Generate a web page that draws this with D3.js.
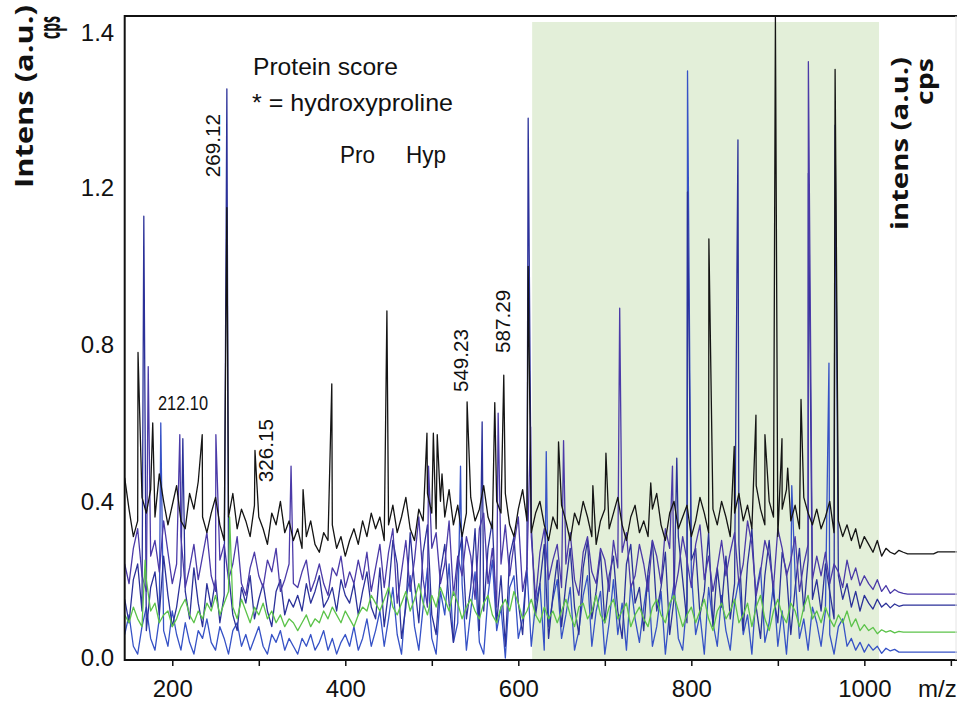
<!DOCTYPE html>
<html>
<head>
<meta charset="utf-8">
<script src="https://cdn.jsdelivr.net/npm/d3@7"></script>
<style>
  html, body { margin: 0; padding: 0; background: #fff; }
  svg { display: block; }
</style>
</head>
<body>
<svg id="chart" width="957" height="705"></svg>
<script>
// ---------------- DATA ----------------
const mzStart = 145, mzStep = 5;   // m/z grid of the sampled traces

const blackVals = [
  0.46,0.38,0.31,0.35,0.41,0.37,0.43,0.36,0.47,0.40,0.34,0.39,0.44,0.35,0.33,0.42,0.38,0.45,0.36,0.32,
  0.37,0.41,0.34,0.30,0.36,0.42,0.33,0.38,0.35,0.31,0.39,0.36,0.33,0.29,0.37,0.34,0.40,0.32,0.35,0.30,
  0.33,0.28,0.31,0.35,0.29,0.27,0.32,0.30,0.34,0.28,0.31,0.26,0.30,0.33,0.29,0.35,0.31,0.37,0.33,0.36,
  0.30,0.34,0.39,0.32,0.36,0.41,0.33,0.30,0.38,0.35,0.42,0.37,0.33,0.40,0.36,0.43,0.34,0.39,0.31,0.37,
  0.41,0.35,0.38,0.44,0.36,0.33,0.40,0.37,0.42,0.34,0.31,0.38,0.43,0.35,0.32,0.37,0.40,0.34,0.30,0.36,
  0.33,0.39,0.35,0.30,0.37,0.34,0.40,0.36,0.31,0.29,0.35,0.38,0.33,0.37,0.41,0.34,0.30,0.36,0.39,0.32,
  0.35,0.31,0.38,0.42,0.34,0.30,0.37,0.40,0.33,0.36,0.39,0.31,0.35,0.41,0.37,0.32,0.38,0.34,0.40,0.36,
  0.31,0.37,0.42,0.35,0.39,0.33,0.44,0.38,0.34,0.40,0.36,0.31,0.38,0.43,0.35,0.39,0.33,0.41,0.37,0.34,
  0.38,0.33,0.36,0.40,0.32,0.35,0.31,0.34,0.30,0.33,0.28,0.31,0.29,0.27,0.30,0.26,0.28,0.27,0.265,0.275,
  0.27,0.266,0.266,0.266,0.266,0.266,0.266,0.266,0.271,0.271,0.271,0.271,0.271,0.271
];
const purpleVals = [
  0.24,0.19,0.28,0.33,0.21,0.17,0.26,0.30,0.22,0.35,0.27,0.19,0.24,0.31,0.18,0.23,0.29,0.20,0.26,0.32,
  0.21,0.17,0.25,0.29,0.20,0.24,0.31,0.19,0.16,0.23,0.27,0.21,0.18,0.25,0.22,0.28,0.17,0.20,0.24,0.19,
  0.18,0.22,0.25,0.17,0.20,0.24,0.19,0.16,0.23,0.21,0.26,0.18,0.22,0.19,0.25,0.20,0.27,0.17,0.23,0.29,
  0.18,0.27,0.33,0.14,0.22,0.30,0.17,0.25,0.36,0.20,0.13,0.28,0.32,0.19,0.24,0.35,0.16,0.26,0.21,0.31,
  0.26,0.15,0.33,0.37,0.19,0.28,0.13,0.24,0.34,0.21,0.29,0.36,0.17,0.23,0.31,0.15,0.27,0.33,0.20,0.25,
  0.29,0.18,0.24,0.32,0.20,0.16,0.27,0.31,0.22,0.19,0.28,0.25,0.17,0.30,0.23,0.27,0.32,0.18,0.21,0.29,
  0.24,0.17,0.30,0.26,0.19,0.33,0.28,0.16,0.22,0.31,0.25,0.18,0.29,0.34,0.20,0.26,0.17,0.23,0.30,0.21,
  0.27,0.32,0.19,0.24,0.35,0.29,0.16,0.22,0.30,0.26,0.18,0.33,0.28,0.21,0.25,0.31,0.17,0.24,0.29,0.20,
  0.26,0.21,0.27,0.19,0.24,0.22,0.18,0.25,0.20,0.23,0.185,0.21,0.19,0.175,0.20,0.17,0.185,0.165,0.175,0.168,
  0.165,0.163,0.163,0.163,0.163,0.163,0.163,0.163,0.163,0.163,0.163,0.163,0.163,0.163
];
const blueVals = [
  0.15,0.09,0.20,0.24,0.12,0.07,0.18,0.22,0.11,0.26,0.16,0.08,0.13,0.21,0.17,0.10,0.23,0.14,0.08,0.19,
  0.13,0.20,0.09,0.16,0.22,0.11,0.07,0.18,0.14,0.21,0.10,0.15,0.19,0.12,0.08,0.17,0.20,0.11,0.15,0.13,
  0.16,0.12,0.19,0.14,0.17,0.21,0.13,0.15,0.18,0.12,0.20,0.16,0.14,0.19,0.11,0.17,0.22,0.13,0.10,0.23,
  0.08,0.17,0.30,0.24,0.05,0.13,0.32,0.19,0.09,0.27,0.34,0.11,0.06,0.22,0.29,0.14,0.04,0.25,0.31,0.10,
  0.18,0.33,0.07,0.12,0.28,0.35,0.09,0.21,0.03,0.26,0.31,0.14,0.06,0.24,0.34,0.11,0.19,0.29,0.05,0.16,
  0.25,0.08,0.19,0.28,0.13,0.06,0.23,0.30,0.10,0.17,0.27,0.09,0.21,0.26,0.12,0.05,0.24,0.29,0.14,0.18,
  0.07,0.22,0.30,0.12,0.18,0.27,0.06,0.15,0.31,0.20,0.09,0.25,0.28,0.11,0.17,0.32,0.08,0.23,0.13,0.26,
  0.10,0.19,0.29,0.07,0.24,0.33,0.13,0.05,0.21,0.30,0.16,0.09,0.27,0.22,0.06,0.18,0.28,0.12,0.25,0.15,
  0.20,0.12,0.24,0.17,0.10,0.21,0.15,0.19,0.13,0.17,0.12,0.16,0.14,0.125,0.15,0.13,0.14,0.128,0.138,0.132,
  0.135,0.135,0.135,0.135,0.135,0.135,0.135,0.135,0.135,0.135,0.135,0.135,0.135,0.135
];
const greenVals = [
  0.11,0.09,0.13,0.10,0.08,0.20,0.12,0.14,0.09,0.11,0.12,0.08,0.10,0.13,0.15,0.11,0.09,0.12,0.10,0.14,
  0.12,0.16,0.11,0.14,0.17,0.13,0.10,0.15,0.12,0.09,0.13,0.11,0.14,0.10,0.12,0.09,0.11,0.08,0.10,0.09,
  0.07,0.09,0.11,0.08,0.10,0.09,0.12,0.10,0.13,0.11,0.09,0.12,0.10,0.08,0.11,0.13,0.12,0.16,0.14,0.12,
  0.15,0.18,0.13,0.11,0.14,0.17,0.12,0.15,0.19,0.14,0.11,0.16,0.13,0.18,0.15,0.12,0.17,0.14,0.10,0.13,
  0.15,0.12,0.10,0.14,0.16,0.11,0.09,0.13,0.15,0.12,0.17,0.14,0.10,0.12,0.15,0.11,0.09,0.13,0.10,0.12,
  0.09,0.12,0.15,0.11,0.08,0.13,0.14,0.10,0.12,0.16,0.11,0.09,0.13,0.15,0.10,0.12,0.14,0.08,0.11,0.13,
  0.10,0.08,0.13,0.15,0.11,0.09,0.14,0.16,0.12,0.08,0.11,0.13,0.09,0.12,0.15,0.10,0.07,0.12,0.14,0.10,
  0.12,0.15,0.09,0.11,0.14,0.08,0.13,0.16,0.10,0.07,0.12,0.15,0.11,0.09,0.14,0.12,0.08,0.13,0.16,0.10,
  0.12,0.09,0.13,0.10,0.08,0.11,0.09,0.12,0.08,0.10,0.07,0.085,0.07,0.078,0.062,0.072,0.066,0.07,0.064,0.068,
  0.066,0.066,0.066,0.066,0.066,0.066,0.066,0.066,0.066,0.066,0.066,0.066,0.066,0.066
];
const lowBlueVals = [
  0.06,0.11,0.03,0.01,0.08,0.13,0.05,0.02,0.10,0.07,0.03,0.12,0.06,0.02,0.09,0.04,0.01,0.07,0.05,0.10,
  0.04,0.02,0.08,0.05,0.01,0.07,0.09,0.03,0.06,0.02,0.05,0.08,0.03,0.01,0.06,0.04,0.07,0.02,0.05,0.03,
  0.01,0.05,0.03,0.06,0.02,0.04,0.07,0.02,0.05,0.01,0.04,0.06,0.03,0.08,0.02,0.05,0.10,0.03,0.07,0.12,
  0.03,0.10,0.18,0.06,0.01,0.15,0.21,0.08,0.02,0.13,0.23,0.05,0.01,0.17,0.11,0.24,0.04,0.09,0.19,0.02,
  0.12,0.22,0.04,0.01,0.16,0.25,0.07,0.13,0.00,0.18,0.21,0.05,0.10,0.23,0.03,0.14,0.19,0.02,0.08,0.15,
  0.20,0.05,0.11,0.18,0.02,0.07,0.16,0.21,0.03,0.12,0.17,0.01,0.09,0.20,0.06,0.14,0.02,0.19,0.10,0.04,
  0.13,0.21,0.03,0.08,0.17,0.01,0.12,0.19,0.05,0.02,0.15,0.22,0.06,0.11,0.01,0.18,0.09,0.03,0.16,0.07,
  0.02,0.14,0.20,0.06,0.11,0.01,0.17,0.23,0.04,0.09,0.19,0.03,0.12,0.01,0.16,0.21,0.05,0.10,0.02,0.13,
  0.09,0.03,0.12,0.06,0.01,0.08,0.10,0.03,0.05,0.02,0.04,0.015,0.035,0.02,0.03,0.012,0.025,0.018,0.022,0.015,
  0.015,0.015,0.015,0.015,0.015,0.015,0.015,0.015,0.015,0.015,0.015,0.015,0.015,0.015
];

// peaks: [m/z, intensity]
const blackPeaks = [[160.4,0.78],[177.4,0.60],[234.6,0.57],[263.1,1.15],[295.6,0.53],[351.2,0.43],
  [384.4,0.70],[448.1,0.886],[494.4,0.574],[501.8,0.574],[506.3,0.57],[511.8,0.47],[540.8,0.654],
  [572.8,0.652],[583.2,0.722],[611.4,1.0],[646.5,0.552],[686.2,0.44],[701.3,0.523],[753.1,0.447],
  [820.3,1.07],[849.6,0.54],[874.7,0.62],[885.1,0.57],[897.2,1.42],[904.8,0.56],[911.4,0.485],
  [926.8,0.66],[966.2,1.353]];
const purplePeaks = [[172.2,0.744],[208.7,0.57],[250.4,0.57],[337.3,0.49],[496.2,0.49],[576.7,0.625],
  [614.2,0.59],[652.3,0.555],[717.2,0.893],[778.2,0.49],[935.3,1.363]];
const bluePeaks = [[167.1,1.128],[212.2,0.56],[263.1,1.328],[558.2,0.603],[611.4,1.29],[783.2,0.51],
  [795.6,1.19],[853.9,1.262],[935.3,1.219],[966.2,1.281]];
const greenPeaks = [[168.6,0.25],[266.3,0.36]];
const lowBluePeaks = [[186.7,0.60],[533.2,0.49],[632.3,0.527],[795.6,1.351],[916.1,0.44],[959.1,0.753]];

const shadeRange = [616, 1017];   // highlighted m/z window

const xTickValues = [200,300,400,500,600,700,800,900,1000,1100];
const xLabelValues = [200,400,600,800,1000];
const yTickValues = [0.0, 0.4, 0.8, 1.2, 1.4];
const yTickLabels = ["0.0","0.4","0.8","1.2","1.4"];

const peakLabels = [
  {text:"269.12", mz:255.2, v:1.214, rot:true},
  {text:"326.15", mz:316.5, v:0.449, rot:true},
  {text:"549.23", mz:542.0, v:0.679, rot:true},
  {text:"587.29", mz:590.5, v:0.779, rot:true},
  {text:"212.10", mz:183.5, v:0.633, rot:false}
];

// ---------------- DRAW ----------------
const svg = d3.select("#chart");
const L = 124.7, R = 957, T = 16, B = 660;

const x = d3.scaleLinear().domain([145, 1107]).range([124.7, 956.9]);
const y = d3.scaleLinear().domain([0, 1.2, 1.4]).range([658, 188, 33]);

svg.append("rect").attr("width",957).attr("height",705).attr("fill","#fff");

svg.append("defs").append("clipPath").attr("id","plotclip")
  .append("rect").attr("x",L).attr("y",T).attr("width",R-L).attr("height",B-T);

// shaded window
svg.append("rect")
  .attr("x", x(shadeRange[0])).attr("y", 22)
  .attr("width", x(shadeRange[1]) - x(shadeRange[0]))
  .attr("height", B - 22)
  .attr("fill", "#e3efd9");

function buildTrace(vals, peaks) {
  const pts = vals.map((v,i) => [mzStart + i*mzStep, v]);
  peaks.forEach(p => pts.push(p));
  pts.sort((a,b) => a[0]-b[0]);
  return pts;
}

const traces = [
  {vals: lowBlueVals, peaks: lowBluePeaks, color: "#3652c6"},
  {vals: blueVals,    peaks: bluePeaks,    color: "#2b3199"},
  {vals: purpleVals,  peaks: purplePeaks,  color: "#4b3aa8"},
  {vals: greenVals,   peaks: greenPeaks,   color: "#5cc34a"},
  {vals: blackVals,   peaks: blackPeaks,   color: "#141414"}
];

const line = d3.line().x(d => x(d[0])).y(d => y(d[1]));
const gLines = svg.append("g").attr("clip-path","url(#plotclip)");
traces.forEach(t => {
  gLines.append("path")
    .datum(buildTrace(t.vals, t.peaks))
    .attr("d", line)
    .attr("fill","none")
    .attr("stroke", t.color)
    .attr("stroke-width", 1.3)
    .attr("stroke-linejoin","round");
});

// frame
svg.append("line").attr("x1",L).attr("x2",R).attr("y1",T).attr("y2",T)
  .attr("stroke","#111").attr("stroke-width",2.2);
svg.append("line").attr("x1",L).attr("x2",L).attr("y1",T-1).attr("y2",B+1)
  .attr("stroke","#111").attr("stroke-width",2);
svg.append("line").attr("x1",L).attr("x2",R).attr("y1",B).attr("y2",B)
  .attr("stroke","#111").attr("stroke-width",2);
svg.append("line").attr("x1",956).attr("x2",956).attr("y1",T).attr("y2",B)
  .attr("stroke","#e4e4e4").attr("stroke-width",1);

// x axis
const xAxis = d3.axisBottom(x).tickValues(xTickValues).tickSize(6).tickPadding(14)
  .tickFormat(d => xLabelValues.includes(d) ? String(d) : "");
const gx = svg.append("g").attr("transform",`translate(0,${B})`).call(xAxis);
gx.select(".domain").remove();
gx.selectAll(".tick line").attr("stroke","#111").attr("stroke-width",1.5);
gx.selectAll(".tick text").attr("fill","#111")
  .style("font-family","'Liberation Sans', Arial, sans-serif").style("font-size","24px");

svg.append("text").attr("x",918).attr("y",697).text("m/z")
  .style("font-family","'Liberation Sans', Arial, sans-serif").style("font-size","24px").attr("fill","#111");

// y axis
const yAxis = d3.axisLeft(y).tickValues(yTickValues).tickSize(0).tickPadding(10.5)
  .tickFormat((d,i) => yTickLabels[i]);
const gy = svg.append("g").attr("transform",`translate(${L},0)`).call(yAxis);
gy.select(".domain").remove();
gy.selectAll(".tick text").attr("fill","#111")
  .style("font-family","'Liberation Sans', Arial, sans-serif").style("font-size","24px");

// axis titles
const boldFont = "'Open Sans', 'DejaVu Sans', sans-serif";
function rotText(tx, ty, str, size, len) {
  svg.append("text").attr("transform",`translate(${tx},${ty}) rotate(-90)`)
    .attr("textLength", len).attr("lengthAdjust","spacingAndGlyphs")
    .style("font-family", boldFont).style("font-weight","700").style("font-size", size+"px")
    .attr("fill","#111").text(str);
}
rotText(33, 188, "Intens (a.u.)", 25, 183);
rotText(908, 230, "intens (a.u.)", 24, 173);
rotText(933, 105, "cps", 24, 47);
// small squeezed "cps" on the left
svg.append("text").attr("transform","translate(60,39) rotate(-90) scale(0.48,1)")
  .style("font-family", boldFont).style("font-weight","700").style("font-size","29px")
  .attr("fill","#111").text("cps");

// annotations
const regFont = "'Liberation Sans', Arial, sans-serif";
function plainText(tx, ty, str, size, len) {
  const t = svg.append("text").attr("x",tx).attr("y",ty)
    .style("font-family", regFont).style("font-size", size+"px").attr("fill","#111").text(str);
  if (len) t.attr("textLength", len).attr("lengthAdjust","spacingAndGlyphs");
}
plainText(253, 75, "Protein score", 24, 145);
plainText(252, 111, "* = hydroxyproline", 24, 201);
plainText(340, 163, "Pro", 24, 35);
plainText(406, 163, "Hyp", 24, 40);

peakLabels.forEach(p => {
  const t = svg.append("text")
    .style("font-family", regFont).style("font-size","20px").attr("fill","#111").text(p.text);
  if (p.rot) {
    t.attr("transform",`translate(${x(p.mz)},${y(p.v)}) rotate(-90)`)
     .attr("textLength",63).attr("lengthAdjust","spacingAndGlyphs");
  } else {
    t.attr("x", x(p.mz)).attr("y", y(p.v))
     .attr("textLength",50).attr("lengthAdjust","spacingAndGlyphs");
  }
});
</script>
</body>
</html>
